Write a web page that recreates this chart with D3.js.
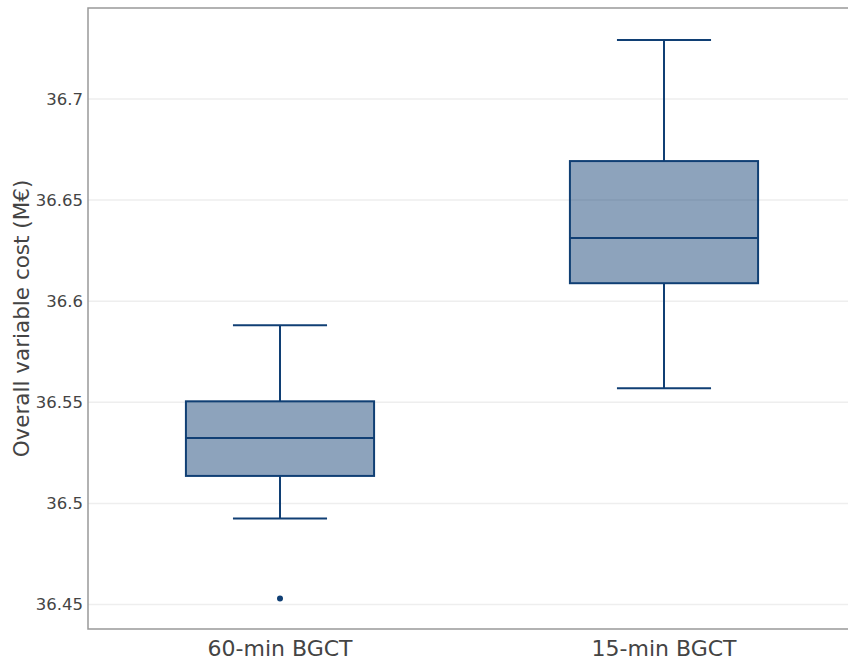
<!DOCTYPE html>
<html><head><meta charset="utf-8">
<script src="https://cdn.jsdelivr.net/npm/d3@7"></script>
<style>body{margin:0;background:#fff}svg{display:block}</style>
</head><body>
<div id="chart"></div>
<script>
const categories = ["60-min BGCT", "15-min BGCT"];
const lowerWhisker = [36.4926, 36.5569];
const q1 = [36.5136, 36.6089];
const median = [36.5324, 36.6312];
const q3 = [36.5505, 36.6693];
const upperWhisker = [36.5881, 36.7292];
const outliers = [[36.4530], []];
const yTicks = [36.45, 36.5, 36.55, 36.6, 36.65, 36.7];
const yTitle = "Overall variable cost (M€)";

const W = 848, H = 662;
const m = {left: 88, top: 8, right: 856, bottom: 629};
const svg = d3.select("#chart").append("svg").attr("width", W).attr("height", H);

const x = d3.scaleBand().domain(categories).range([m.left, m.right]);
const y = d3.scaleLinear().domain([36.4379, 36.745]).range([m.bottom, m.top]);

const lineColor = "#103f74";
const fillColor = "rgba(16,63,116,0.48)";
const font = "'DejaVu Sans', Verdana, sans-serif";

// gridlines
svg.append("g").selectAll("line").data(yTicks).join("line")
  .attr("x1", m.left).attr("x2", m.right)
  .attr("y1", d => y(d)).attr("y2", d => y(d))
  .attr("stroke", "#eeeeee").attr("stroke-width", 1.5);

// y axis labels
const yAxis = d3.axisLeft(y).tickValues(yTicks).tickSize(0).tickPadding(5).tickFormat(d => String(+d.toFixed(3)));
const ya = svg.append("g").attr("transform", `translate(${m.left},0)`).call(yAxis);
ya.select(".domain").remove();
ya.selectAll("text").attr("font-family", font).attr("font-size", 16.5).attr("fill", "#444");

// x axis labels
const xAxis = d3.axisBottom(x).tickSize(0).tickPadding(0);
const xa = svg.append("g").attr("transform", `translate(0,${m.bottom})`).call(xAxis);
xa.select(".domain").remove();
xa.selectAll("text").attr("font-family", font).attr("font-size", 22).attr("fill", "#444")
  .attr("dy", null).attr("y", 27);

// frame
svg.append("rect").attr("x", m.left).attr("y", m.top)
  .attr("width", m.right - m.left).attr("height", m.bottom - m.top)
  .attr("fill", "none").attr("stroke", "#999").attr("stroke-width", 1.5);

// boxes
const bw = x.bandwidth() * 0.49;
const cw = bw / 2;
const g = svg.append("g");
categories.forEach((c, i) => {
  const cx = x(c) + x.bandwidth() / 2;
  const gg = g.append("g");
  gg.append("line").attr("x1", cx).attr("x2", cx).attr("y1", y(upperWhisker[i])).attr("y2", y(q3[i]))
    .attr("stroke", lineColor).attr("stroke-width", 2);
  gg.append("line").attr("x1", cx).attr("x2", cx).attr("y1", y(q1[i])).attr("y2", y(lowerWhisker[i]))
    .attr("stroke", lineColor).attr("stroke-width", 2);
  [upperWhisker[i], lowerWhisker[i]].forEach(v => {
    gg.append("line").attr("x1", cx - cw / 2).attr("x2", cx + cw / 2).attr("y1", y(v)).attr("y2", y(v))
      .attr("stroke", lineColor).attr("stroke-width", 2);
  });
  gg.append("rect").attr("x", cx - bw / 2).attr("width", bw)
    .attr("y", y(q3[i])).attr("height", y(q1[i]) - y(q3[i]))
    .attr("fill", fillColor).attr("stroke", lineColor).attr("stroke-width", 2);
  gg.append("line").attr("x1", cx - bw / 2).attr("x2", cx + bw / 2).attr("y1", y(median[i])).attr("y2", y(median[i]))
    .attr("stroke", lineColor).attr("stroke-width", 2);
  gg.selectAll("circle").data(outliers[i]).join("circle")
    .attr("cx", cx).attr("cy", d => y(d)).attr("r", 3).attr("fill", lineColor);
});

// y title
svg.append("text").attr("transform", `translate(29,${(m.top + m.bottom) / 2}) rotate(-90)`)
  .attr("text-anchor", "middle").attr("font-family", font).attr("font-size", 21.5).attr("fill", "#444")
  .text(yTitle);
</script>
</body></html>
